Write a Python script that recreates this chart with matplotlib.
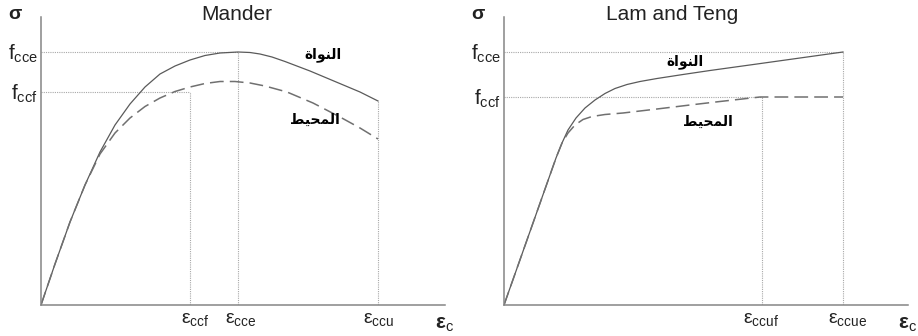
import matplotlib
matplotlib.use("Agg")
import matplotlib.pyplot as plt

plt.rcParams['font.family'] = ['Liberation Sans', 'DejaVu Sans']
plt.rcParams['mathtext.fontset'] = 'custom'
plt.rcParams['mathtext.rm'] = 'Liberation Sans'
plt.rcParams['mathtext.bf'] = 'Liberation Sans:bold'
plt.rcParams['mathtext.default'] = 'regular'

# ---- Mander (strain / stress in arbitrary units) ----
mander_core_x = [0, 0.14, 0.29, 0.44, 0.59, 0.74, 0.89, 1.04, 1.19, 1.34, 1.49,
                 1.64, 1.79, 1.97, 2.09, 2.19, 2.31, 2.44, 2.69, 2.94, 3.19, 3.37]
mander_core_y = [0, 4.1, 8.3, 12.0, 15.3, 18.0, 20.1, 21.8, 23.1, 23.9, 24.5,
                 24.95, 25.2, 25.3, 25.25, 25.1, 24.8, 24.35, 23.4, 22.35, 21.3, 20.4]
mander_cover_x = [0, 0.14, 0.29, 0.44, 0.59, 0.74, 0.89, 1.04, 1.19, 1.34, 1.49,
                  1.64, 1.79, 1.94, 2.09, 2.24, 2.46, 2.72, 2.99, 3.19, 3.37]
mander_cover_y = [0, 4.1, 8.3, 12.0, 15.1, 17.2, 18.7, 19.85, 20.7, 21.35, 21.8,
                  22.15, 22.35, 22.35, 22.2, 21.9, 21.3, 20.2, 18.8, 17.7, 16.6]
mander_f = {'cce': 25.3, 'ccf': 21.3}
mander_eps = {'ccf': 1.49, 'cce': 1.97, 'ccu': 3.37}

# ---- Lam and Teng ----
lam_core_x = [0, 0.52, 0.58, 0.64, 0.72, 0.81, 0.91, 1.01, 1.11, 1.23, 1.36,
              1.53, 1.79, 2.06, 2.53, 2.96, 3.39]
lam_core_y = [0, 14.7, 16.2, 17.5, 18.7, 19.7, 20.5, 21.15, 21.65, 22.05, 22.35,
              22.65, 23.05, 23.45, 24.1, 24.7, 25.3]
lam_cover_x = [0, 0.52, 0.58, 0.64, 0.71, 0.79, 0.88, 1.01, 1.19, 1.53, 1.86,
               2.16, 2.56, 3.39]
lam_cover_y = [0, 14.7, 16.2, 17.2, 18.0, 18.55, 18.85, 19.05, 19.2, 19.6, 20.0,
               20.35, 20.8, 20.8]
lam_f = {'cce': 25.3, 'ccf': 20.8}
lam_eps = {'ccuf': 2.58, 'ccue': 3.39}

label_core = 'النواة'
label_cover = 'المحيط'

X_MAX, Y_MAX = 4.04, 28.8

# minimal arabic shaping (matplotlib has no bidi / joining support)
AR_FORMS = {
    'ا': ('\ufe8d', '\ufe8e', None, None),
    'ة': ('\ufe93', '\ufe94', None, None),
    'و': ('\ufeed', '\ufeee', None, None),
    'ل': ('\ufedd', '\ufede', '\ufedf', '\ufee0'),
    'ن': ('\ufee5', '\ufee6', '\ufee7', '\ufee8'),
    'م': ('\ufee1', '\ufee2', '\ufee3', '\ufee4'),
    'ح': ('\ufea1', '\ufea2', '\ufea3', '\ufea4'),
    'ي': ('\ufef1', '\ufef2', '\ufef3', '\ufef4'),
    'ط': ('\ufec1', '\ufec2', '\ufec3', '\ufec4'),
}


def shape_ar(word):
    out = []
    for i, ch in enumerate(word):
        iso, fin, ini, med = AR_FORMS[ch]
        prev_joins = i > 0 and AR_FORMS[word[i - 1]][2] is not None
        next_joins = i < len(word) - 1 and ini is not None
        if prev_joins and next_joins:
            out.append(med)
        elif prev_joins:
            out.append(fin)
        elif next_joins:
            out.append(ini)
        else:
            out.append(iso)
    return ''.join(reversed(out))


def setup(ax, title, title_x):
    ax.set_xlim(0, X_MAX)
    ax.set_ylim(0, Y_MAX)
    for s in ['top', 'right']:
        ax.spines[s].set_visible(False)
    for s in ['left', 'bottom']:
        ax.spines[s].set_color('#858585')
        ax.spines[s].set_linewidth(1.1)
    ax.set_xticks([])
    ax.set_yticks([])
    ax.patch.set_alpha(0)
    ax.text(title_x, 1.007, title, transform=ax.transAxes, ha='center',
            va='center', fontsize=15, color='#222222')
    ax.text(-0.064, 1.01, 'σ', transform=ax.transAxes, ha='center', va='center',
            fontsize=14, fontweight='bold', color='#222222')
    ax.text(1.0, -0.035, r'$\mathbf{ε}_{c}$', transform=ax.transAxes,
            ha='center', va='top', fontsize=15, color='#222222')


def f_label(ax, name, val):
    ax.text(-0.008, val - 0.75, 'f$_{%s}$' % name, transform=ax.get_yaxis_transform(),
            ha='right', va='baseline', fontsize=15, color='#222222')


def eps_label(ax, name, val, dx=0.0):
    ax.text(val + dx, -0.6, 'ε$_{%s}$' % name, ha='center', va='top',
            fontsize=14, color='#222222')


ref = dict(color='#a8a8a8', lw=0.8, ls=(0, (1, 1)))
core_style = dict(color='#5a5a5a', lw=0.9)
cover_style = dict(color='#707070', lw=1.1, ls=(0, (9, 4)))

fig = plt.figure(figsize=(9.18, 3.36), dpi=100)
ax1 = fig.add_axes([41 / 918, 31 / 336, 404 / 918, 288 / 336])
ax2 = fig.add_axes([504 / 918, 31 / 336, 404 / 918, 288 / 336])

# ---- left panel ----
setup(ax1, 'Mander', 0.485)
ax1.plot([0, mander_eps['cce']], [mander_f['cce']] * 2, **ref)
ax1.plot([0, mander_eps['ccf']], [mander_f['ccf']] * 2, **ref)
ax1.plot([mander_eps['ccf']] * 2, [0, mander_f['ccf']], **ref)
ax1.plot([mander_eps['cce']] * 2, [0, mander_f['cce']], **ref)
ax1.plot([mander_eps['ccu']] * 2, [0, mander_core_y[-1]], **ref)
ax1.plot(mander_core_x, mander_core_y, **core_style)
ax1.plot(mander_cover_x, mander_cover_y, **cover_style)
for k, v in mander_f.items():
    f_label(ax1, k, v)
eps_label(ax1, 'ccf', mander_eps['ccf'], 0.05)
eps_label(ax1, 'cce', mander_eps['cce'], 0.03)
eps_label(ax1, 'ccu', mander_eps['ccu'], 0.01)
ax1.text(2.82, 25.0, shape_ar(label_core), ha='center', va='center',
         fontsize=10, fontweight='bold', family=['DejaVu Sans'])
ax1.text(2.74, 18.5, shape_ar(label_cover), ha='center', va='center',
         fontsize=10, fontweight='bold', family=['DejaVu Sans'])

# ---- right panel ----
setup(ax2, 'Lam and Teng', 0.417)
ax2.plot([0, lam_eps['ccue']], [lam_f['cce']] * 2, **ref)
ax2.plot([0, lam_eps['ccuf']], [lam_f['ccf']] * 2, **ref)
ax2.plot([lam_eps['ccuf']] * 2, [0, lam_f['ccf']], **ref)
ax2.plot([lam_eps['ccue']] * 2, [0, lam_f['cce']], **ref)
ax2.plot(lam_core_x, lam_core_y, **core_style)
ax2.plot(lam_cover_x, lam_cover_y, **cover_style)
for k, v in lam_f.items():
    f_label(ax2, k, v)
eps_label(ax2, 'ccuf', lam_eps['ccuf'], -0.01)
eps_label(ax2, 'ccue', lam_eps['ccue'], 0.05)
ax2.text(1.81, 24.3, shape_ar(label_core), ha='center', va='center',
         fontsize=10, fontweight='bold', family=['DejaVu Sans'])
ax2.text(2.04, 18.3, shape_ar(label_cover), ha='center', va='center',
         fontsize=10, fontweight='bold', family=['DejaVu Sans'])

fig.savefig('out.png', dpi=100)
